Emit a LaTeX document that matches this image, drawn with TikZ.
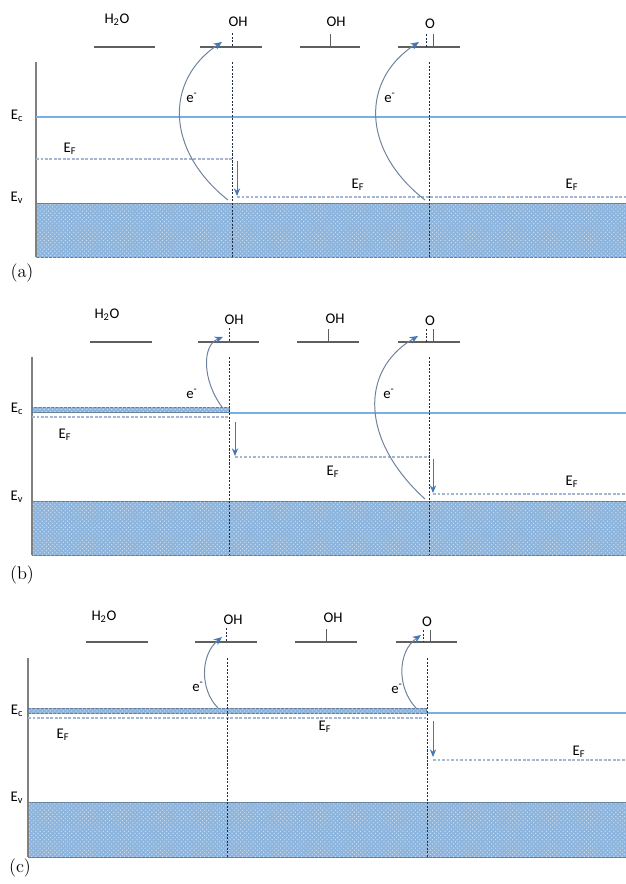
\documentclass[tikz,border=0pt]{standalone}
\usepackage{fontspec}
\newfontfamily\lblfont{Carlito}
\usetikzlibrary{arrows.meta,patterns}
\definecolor{bandblue}{RGB}{140,180,220}
\definecolor{lineblue}{RGB}{120,175,228}
\definecolor{arrowblue}{RGB}{70,120,180}
\definecolor{fermigray}{RGB}{165,182,208}
\definecolor{sepdark}{RGB}{35,45,65}
\definecolor{surfgray}{RGB}{95,95,95}
\definecolor{curvegray}{RGB}{110,130,155}
\begin{document}
\begin{tikzpicture}[x=0.025cm,y=-0.025cm,
    lbl/.style={font=\lblfont\fontsize{10.5}{12}\selectfont,inner sep=0pt},
    tag/.style={font=\fontsize{13}{15}\selectfont,inner sep=0pt},
    surf/.style={surfgray,line width=1pt},
    axisline/.style={gray,line width=1.3pt},
    ecline/.style={lineblue,line width=0.85pt},
    fermi/.style={fermigray,line width=0.8pt,dash pattern=on 2pt off 1.2pt},
    sep/.style={sepdark,line width=0.6pt,dash pattern=on 1.5pt off 1pt},
    band/.style={fill=bandblue,draw=bandblue!70!black,line width=0.5pt,
      postaction={pattern=crosshatch dots,pattern color=white!55!bandblue}},
    electron/.style={curvegray,line width=0.7pt,-{Stealth[length=6pt,width=5pt,color=arrowblue]}},
    drop/.style={arrowblue,line width=0.6pt,-{Stealth[length=5.5pt,width=4.5pt]}}]
    \useasboundingbox (0,0) rectangle (626,884);

    \node[lbl] (h2oA) at (117,20) {H\textsubscript{2}O};
    \node[lbl] (ohA)  at (238,22) {OH};
    \node[lbl] (ohbA) at (336,22) {OH};
    \node[lbl] (oA)   at (430,24) {O};
    \draw[surf] (94,47)--(155,47); \draw[surf] (200,47)--(262,47);
    \draw[surf] (300,47)--(360,47); \draw[surf] (398,47)--(460,47);
    \draw[sep] (232,33)--(232,47); \draw[surfgray] (330,34)--(330,47);
    \draw[sep] (426,34)--(426,47); \draw[surfgray] (433,34)--(433,47);
    \draw[band] (36,203) rectangle (626,257);
    \draw[axisline] (36,62)--(36,257);
    \draw[ecline] (36,117)--(626,117);
    \draw[fermi] (36,159)--(232,159); \draw[fermi] (237,197)--(626,197);
    \draw[sep] (232,62)--(232,257); \draw[sep] (429,62)--(429,257);
    \coordinate (dropA1) at (237,161); \coordinate (dropA2) at (237,196);
    \draw[drop] (dropA1)--(dropA2);
    \coordinate (bandA1) at (228,200); \coordinate (surfA1) at (222,42);
    \coordinate (bandA2) at (425,200); \coordinate (surfA2) at (419,42);
    \draw[electron] (bandA1) .. controls (165,150) and (165,80) .. (surfA1);
    \draw[electron] (bandA2) .. controls (361,150) and (361,80) .. (surfA2);
    \node[lbl] (ecA)  at (17,116) {E\textsubscript{c}};
    \node[lbl] (evA)  at (17,198) {E\textsubscript{v}};
    \node[lbl] (efA1) at (70,149) {E\textsubscript{F}};
    \node[lbl] (efA2) at (358,185) {E\textsubscript{F}};
    \node[lbl] (efA3) at (572,185) {E\textsubscript{F}};
    \node[lbl] (eA1)  at (192,98) {e\textsuperscript{-}};
    \node[lbl] (eA2)  at (390,98) {e\textsuperscript{-}};
    \node[tag] (tagA) at (22,273) {(a)};

    \node[lbl] (h2oB) at (107,315) {H\textsubscript{2}O};
    \node[lbl] (ohB)  at (234,320) {OH};
    \node[lbl] (ohbB) at (335,319) {OH};
    \node[lbl] (oB)   at (430,321) {O};
    \draw[surf] (90,342)--(152,342); \draw[surf] (198,342)--(259,342);
    \draw[surf] (297,342)--(359,342); \draw[surf] (398,342)--(460,342);
    \draw[sep] (229,328)--(229,342); \draw[surfgray] (328,329)--(328,342);
    \draw[sep] (426,329)--(426,342); \draw[surfgray] (433,329)--(433,342);
    \draw[band] (32,501) rectangle (626,555);
    \draw[axisline] (32,357)--(32,555);
    \draw[band] (32,407.5) rectangle (229,412.5);
    \draw[ecline] (229,413)--(626,413);
    \draw[fermi] (32,417)--(229,417); \draw[fermi] (235,457)--(429,457);
    \draw[fermi] (433,494)--(626,494);
    \draw[sep] (229,357)--(229,555); \draw[sep] (429,357)--(429,555);
    \coordinate (dropB1) at (235,422); \coordinate (dropB2) at (235,456);
    \coordinate (dropB3) at (433,459); \coordinate (dropB4) at (433,493);
    \draw[drop] (dropB1)--(dropB2); \draw[drop] (dropB3)--(dropB4);
    \coordinate (bandB1) at (222,407); \coordinate (surfB1) at (223,337);
    \coordinate (bandB2) at (425,499); \coordinate (surfB2) at (418,336);
    \draw[electron] (bandB1) .. controls (202,380) and (202,345) .. (surfB1);
    \draw[electron] (bandB2) .. controls (360,440) and (360,370) .. (surfB2);
    \node[lbl] (ecB)  at (17,409) {E\textsubscript{c}};
    \node[lbl] (evB)  at (17,497) {E\textsubscript{v}};
    \node[lbl] (efB1) at (65,435) {E\textsubscript{F}};
    \node[lbl] (efB2) at (333,472) {E\textsubscript{F}};
    \node[lbl] (efB3) at (572,482) {E\textsubscript{F}};
    \node[lbl] (eB1)  at (192,394) {e\textsuperscript{-}};
    \node[lbl] (eB2)  at (389,394) {e\textsuperscript{-}};
    \node[tag] (tagB) at (22,575) {(b)};

    \node[lbl] (h2oC) at (104,617) {H\textsubscript{2}O};
    \node[lbl] (ohC)  at (233,620) {OH};
    \node[lbl] (ohbC) at (333,618) {OH};
    \node[lbl] (oC)   at (427,622) {O};
    \draw[surf] (86,642)--(148,642); \draw[surf] (195,642)--(257,642);
    \draw[surf] (295,642)--(357,642); \draw[surf] (396,642)--(457,642);
    \draw[sep] (226,628)--(226,642); \draw[surfgray] (326,629)--(326,642);
    \draw[sep] (423,630)--(423,642); \draw[surfgray] (430,630)--(430,642);
    \draw[band] (28,802) rectangle (626,857);
    \draw[axisline] (28,658)--(28,857);
    \draw[band] (28,708.5) rectangle (426,713.5);
    \draw[ecline] (426,713)--(626,713);
    \draw[fermi] (28,718)--(426,718); \draw[fermi] (433,760)--(626,760);
    \draw[sep] (227,658)--(227,857); \draw[sep] (427,658)--(427,857);
    \coordinate (dropC1) at (433,721); \coordinate (dropC2) at (433,757);
    \draw[drop] (dropC1)--(dropC2);
    \coordinate (bandC1) at (218,708); \coordinate (surfC1) at (222,637);
    \coordinate (bandC2) at (416,708); \coordinate (surfC2) at (421,635);
    \draw[electron] (bandC1) .. controls (200,690) and (200,655) .. (surfC1);
    \draw[electron] (bandC2) .. controls (397,688) and (397,652) .. (surfC2);
    \node[lbl] (ecC)  at (17,711) {E\textsubscript{c}};
    \node[lbl] (evC)  at (17,798) {E\textsubscript{v}};
    \node[lbl] (efC1) at (63,735) {E\textsubscript{F}};
    \node[lbl] (efC2) at (325,727) {E\textsubscript{F}};
    \node[lbl] (efC3) at (579,752) {E\textsubscript{F}};
    \node[lbl] (eC1)  at (198,687) {e\textsuperscript{-}};
    \node[lbl] (eC2)  at (397,689) {e\textsuperscript{-}};
    \node[tag] (tagC) at (20,868) {(c)};
  \end{tikzpicture}
\end{document}
